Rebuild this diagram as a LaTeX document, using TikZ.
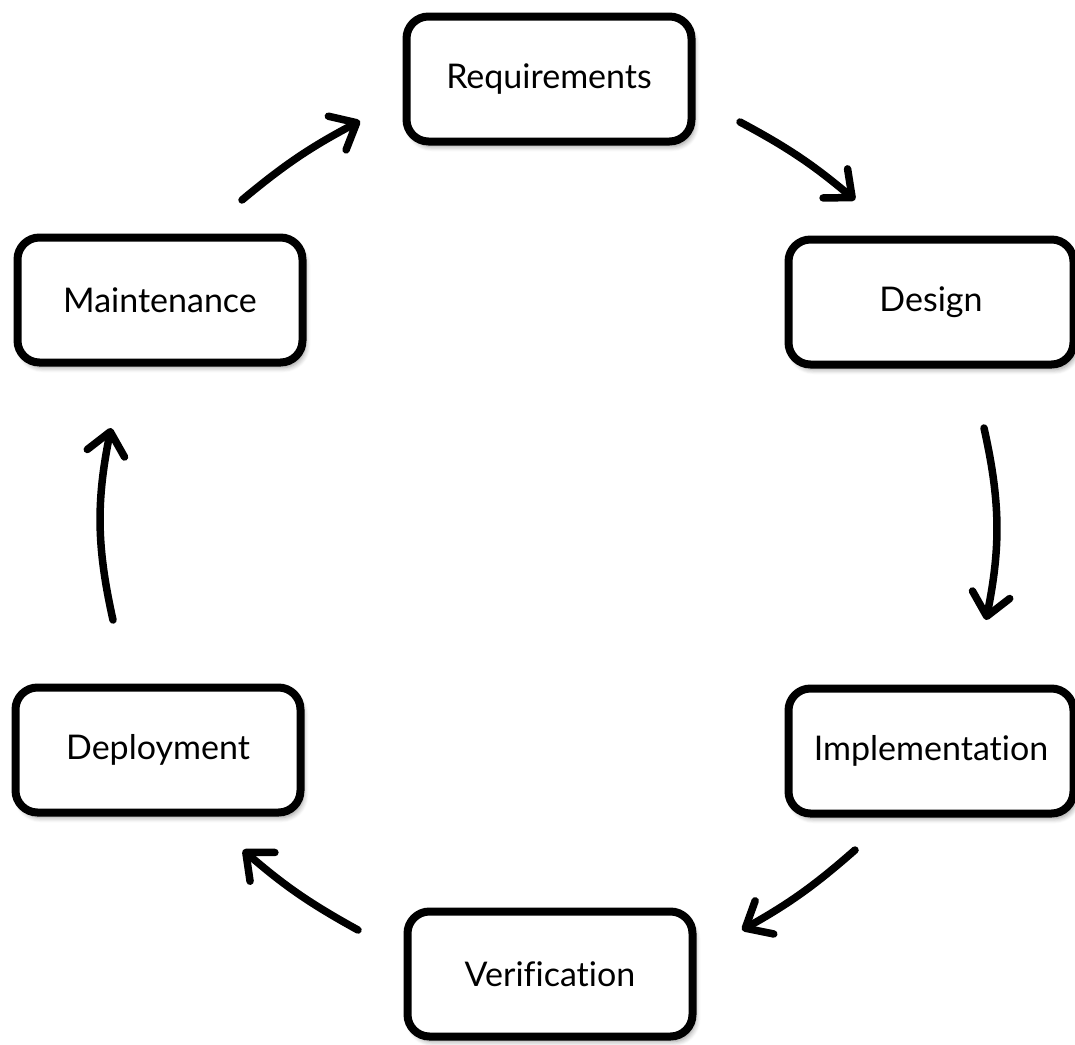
\documentclass[tikz,border=0pt]{standalone}
\usepackage{fontspec}
\setmainfont[Ligatures=NoCommon]{Lato}
\usetikzlibrary{arrows.meta,shadows.blur}
\begin{document}
\begin{tikzpicture}[x=1pt,y=-1pt,
  phase/.style={draw=black, line width=8pt, rounded corners=22pt, fill=white,
    minimum width=285pt, minimum height=125pt, inner sep=0pt, outer sep=6pt,
    font=\fontsize{34}{40}\selectfont,
    blur shadow={shadow blur steps=6, shadow xshift=3pt, shadow yshift=-5pt, shadow opacity=40, shadow blur radius=5pt}},
  flow/.style={line width=7.5pt, line cap=round, -{Straight Barb[length=22pt,width=38pt,line cap=round,line join=round]}}
]
\useasboundingbox (0,0) rectangle (1075,1044);
\node[phase] (req) at (549,79) {Requirements};
\node[phase] (des) at (931,302) {Design};
\node[phase] (imp) at (931,751) {Implementation};
\node[phase] (ver) at (550,974) {Verification};
\node[phase] (dep) at (158,750) {Deployment};
\node[phase] (mai) at (160,300) {Maintenance};
\coordinate (a1s) at (242,200); \coordinate (a1e) at (360,121);
\coordinate (a2s) at (740,122); \coordinate (a2e) at (855,200);
\coordinate (a3s) at (984,428); \coordinate (a3e) at (986,620);
\coordinate (a4s) at (855,850); \coordinate (a4e) at (742,930);
\coordinate (a5s) at (358,930); \coordinate (a5e) at (243,850);
\coordinate (a6s) at (113,620); \coordinate (a6e) at (111,428);
\draw[flow] (a1s) to[bend left=6] (a1e);
\draw[flow] (a2s) to[bend left=6] (a2e);
\draw[flow] (a3s) to[bend left=12] (a3e);
\draw[flow] (a4s) to[bend left=6] (a4e);
\draw[flow] (a5s) to[bend left=6] (a5e);
\draw[flow] (a6s) to[bend left=12] (a6e);
\end{tikzpicture}
\end{document}
